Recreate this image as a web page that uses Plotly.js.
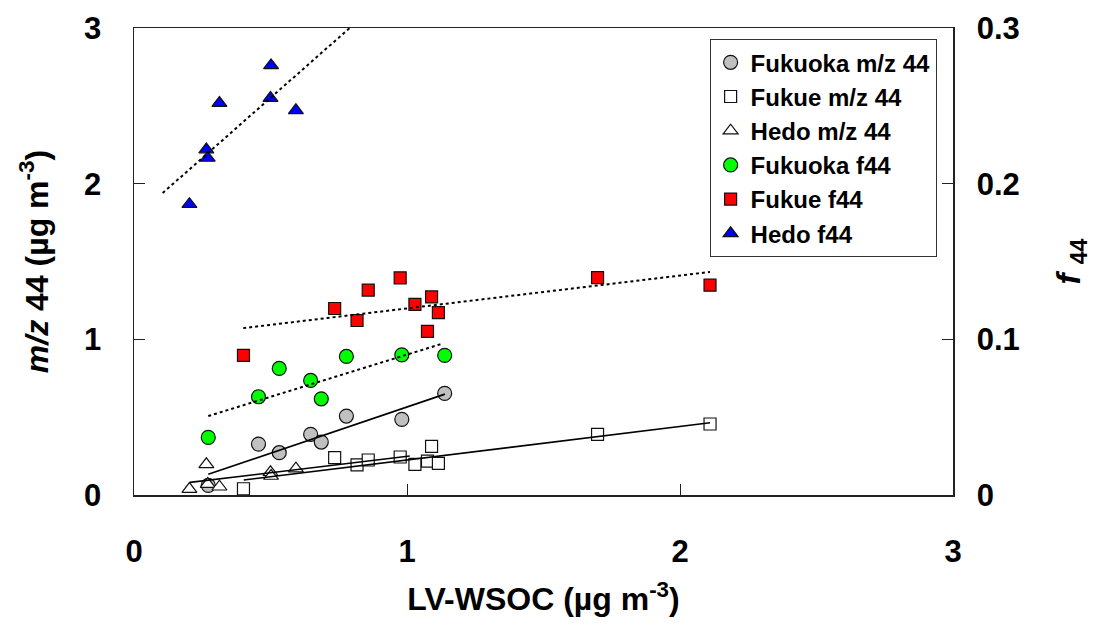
<!DOCTYPE html>
<html>
<head>
<meta charset="utf-8">
<script src="https://cdn.plot.ly/plotly-3.0.1.min.js"></script>
<style>html,body{margin:0;padding:0;background:#fff;}#chart{width:1096px;height:633px;}</style>
</head>
<body>
<div id="chart"></div>
<script>
// LV-WSOC (x) values per site
const fukuokaX = [0.272, 0.456, 0.532, 0.647, 0.686, 0.778, 0.981, 1.138];
const fukueX   = [0.401, 0.735, 0.817, 0.858, 0.975, 1.029, 1.075, 1.090, 1.115, 1.698, 2.110];
const hedoX    = [0.203, 0.265, 0.270, 0.313, 0.500, 0.502, 0.593];

// m/z 44 (µg m-3), left axis
const fukuokaMz = [0.062, 0.327, 0.272, 0.390, 0.340, 0.507, 0.486, 0.653];
const fukueMz   = [0.040, 0.240, 0.193, 0.225, 0.244, 0.197, 0.218, 0.312, 0.203, 0.390, 0.456];
const hedoMz    = [0.038, 0.197, 0.070, 0.053, 0.146, 0.122, 0.169];

// f44, right axis
const fukuokaF44 = [0.0370, 0.0631, 0.0813, 0.0736, 0.0618, 0.0890, 0.0900, 0.0897];
const fukueF44   = [0.0897, 0.1198, 0.1121, 0.1316, 0.1395, 0.1224, 0.1051, 0.1273, 0.1172, 0.1397, 0.1348];
const hedoF44    = [0.1868, 0.2219, 0.2165, 0.2518, 0.2550, 0.2760, 0.2471];

// Regression line end points
const fukuokaMzFitX = [0.272, 1.139], fukuokaMzFitY = [0.133, 0.648];
const fukueMzFitX   = [0.402, 2.110], fukueMzFitY   = [0.096, 0.464];
const hedoMzFitX    = [0.205, 1.010], hedoMzFitY    = [0.081, 0.250];
const fukuokaF44FitX = [0.272, 1.133], fukuokaF44FitY = [0.0507, 0.0974];
const fukueF44FitX   = [0.400, 2.110], fukueF44FitY   = [0.1072, 0.1433];
const hedoF44FitX    = [0.105, 0.790], hedoF44FitY    = [0.1940, 0.3000];

// Axis ticks
const xTicks = [0, 1, 2, 3];
const yTicks = [0, 1, 2, 3];
const y2Ticks = [0, 0.1, 0.2, 0.3];
const y2TickText = ['0', '0.1', '0.2', '0.3'];

// Legend labels
const seriesNames = ['Fukuoka m/z 44', 'Fukue m/z 44', 'Hedo m/z 44', 'Fukuoka f44', 'Fukue f44', 'Hedo f44'];

const FONT = '"Liberation Sans", Arial, Helvetica, sans-serif';
const EDGE = {color: '#111', width: 1.2};
const b = s => '<b>' + s + '</b>';

function pts(name, x, y, axis, symbol, color, size) {
  return {type: 'scatter', mode: 'markers', name: b(name), x: x, y: y, yaxis: axis,
    marker: {symbol: symbol, color: color, size: size, line: EDGE}, cliponaxis: false};
}
function fit(x, y, axis, dash) {
  return {type: 'scatter', mode: 'lines', x: x, y: y, yaxis: axis, showlegend: false,
    hoverinfo: 'skip', line: {color: '#000', width: dash === 'solid' ? 1.6 : 2, dash: dash}};
}

const data = [
  pts(seriesNames[0], fukuokaX, fukuokaMz, 'y', 'circle', '#c0c0c0', 14),
  pts(seriesNames[1], fukueX, fukueMz, 'y', 'square', '#ffffff', 12),
  pts(seriesNames[2], hedoX, hedoMz, 'y', 'triangle-up', '#ffffff', 13),
  pts(seriesNames[3], fukuokaX, fukuokaF44, 'y2', 'circle', '#00ff00', 14),
  pts(seriesNames[4], fukueX, fukueF44, 'y2', 'square', '#ff0000', 12),
  pts(seriesNames[5], hedoX, hedoF44, 'y2', 'triangle-up', '#0000ff', 13),
  fit(fukuokaMzFitX, fukuokaMzFitY, 'y', 'solid'),
  fit(fukueMzFitX, fukueMzFitY, 'y', 'solid'),
  fit(hedoMzFitX, hedoMzFitY, 'y', 'solid'),
  fit(fukuokaF44FitX, fukuokaF44FitY, 'y2', 'dot'),
  fit(fukueF44FitX, fukueF44FitY, 'y2', 'dot'),
  fit(hedoF44FitX, hedoF44FitY, 'y2', 'dot')
];

const tickFont = {family: FONT, size: 31, color: '#000', weight: 700};
const titleFont = {family: FONT, size: 32, color: '#000', weight: 700};

const layout = {
  width: 1096, height: 633,
  margin: {l: 134, r: 143, t: 28, b: 138},
  paper_bgcolor: '#fff', plot_bgcolor: '#fff',
  font: {family: FONT, color: '#000'},
  showlegend: true,
  legend: {
    x: 0.98, xanchor: 'right', y: 0.976, yanchor: 'top',
    bgcolor: '#fff', bordercolor: '#333', borderwidth: 1,
    font: {family: FONT, size: 24, color: '#000', weight: 700},
    tracegroupgap: 0, itemwidth: 30
  },
  xaxis: {
    range: [0, 3], tickvals: xTicks, ticktext: xTicks.map(v => b(String(v))),
    showgrid: false, zeroline: false,
    showline: true, linecolor: '#222', linewidth: 1.5, mirror: true,
    ticks: 'inside', ticklen: 11, tickcolor: '#222', tickwidth: 1,
    tickfont: tickFont, ticklabelstandoff: 28,
    title: {text: b('LV-WSOC (µg m<sup>-3</sup>)'), font: titleFont, standoff: 20},
    automargin: false
  },
  yaxis: {
    range: [0, 3], tickvals: yTicks, ticktext: yTicks.map(v => b(String(v))),
    showgrid: false, zeroline: false,
    showline: true, linecolor: '#222', linewidth: 1.5,
    ticks: 'inside', ticklen: 11, tickcolor: '#222', tickwidth: 1,
    tickfont: tickFont, ticklabelstandoff: 25,
    title: {text: b('<i>m/z</i> 44 (µg m<sup>-3</sup>)'), font: titleFont, standoff: 26},
    automargin: false
  },
  yaxis2: {
    range: [0, 0.3], overlaying: 'y', side: 'right', anchor: 'x',
    tickvals: y2Ticks, ticktext: y2TickText.map(b),
    showgrid: false, zeroline: false,
    showline: true, linecolor: '#222', linewidth: 1.5,
    ticks: 'inside', ticklen: 11, tickcolor: '#222', tickwidth: 1,
    tickfont: tickFont, ticklabelstandoff: 16,
    title: {text: b('<i>f</i> <sub>44</sub>'), font: {family: FONT, size: 33, color: '#000', weight: 700}, standoff: 38},
    automargin: false
  }
};

Plotly.newPlot('chart', data, layout, {displayModeBar: false, staticPlot: true});
</script>
</body>
</html>
